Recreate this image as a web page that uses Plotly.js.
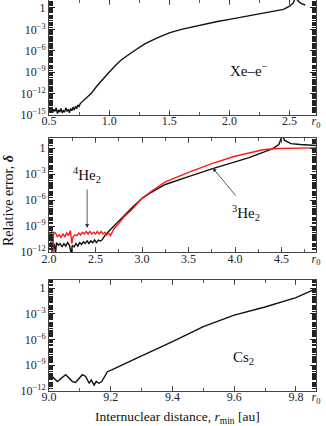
<!DOCTYPE html>
<html>
<head>
<meta charset="utf-8">
<script src="https://cdn.plot.ly/plotly-3.0.1.min.js"></script>
<style>
  body { margin: 0; background: #fff; }
  #chart { width: 326px; height: 426px; }
</style>
</head>
<body>
<div id="chart"></div>
<script>
// Xe-e- panel
const xeX = [0.50, 0.51, 0.52, 0.53, 0.54, 0.55, 0.56, 0.57, 0.58, 0.59, 0.60, 0.61, 0.62, 0.63,
    0.64, 0.65, 0.66, 0.67, 0.68, 0.69, 0.70, 0.71, 0.72, 0.73, 0.74, 0.75, 0.76,
    0.80, 0.85, 0.90, 0.95, 1.00, 1.05, 1.10, 1.20, 1.30, 1.40, 1.50, 1.60, 1.70, 1.80,
    1.90, 2.00, 2.10, 2.20, 2.30, 2.40, 2.45, 2.50, 2.53, 2.55, 2.56, 2.58, 2.60, 2.63];
const xeLogErr = [-14.0, -14.6, -13.9, -14.7, -14.2, -14.5, -14.0, -14.8, -14.3, -14.6, -14.1, -14.7, -14.4,
    -14.6, -14.0, -14.5, -14.2, -14.7, -14.1, -14.4, -13.9, -14.3, -13.8, -14.1, -13.6, -13.8, -13.4,
    -12.8, -12.0, -10.9, -9.9, -9.0, -8.1, -7.3, -6.1, -5.0, -4.2, -3.5, -3.0, -2.6, -2.25,
    -1.9, -1.6, -1.3, -1.05, -0.75, -0.45, -0.2, 0.25, 0.7, 1.5, 1.2, 0.85, 0.6, 0.42];

// He2 panel
const he3X = [2.00, 2.01, 2.02, 2.035, 2.05, 2.06, 2.07, 2.08, 2.10, 2.12, 2.14, 2.16, 2.18, 2.20,
    2.22, 2.24, 2.25, 2.27, 2.29, 2.31, 2.33, 2.35, 2.37, 2.39, 2.41, 2.43, 2.45, 2.47, 2.49,
    2.51, 2.53, 2.55, 2.57, 2.60, 2.65, 2.70, 2.80, 2.90, 3.00, 3.10, 3.25, 3.50, 3.75, 4.00,
    4.15, 4.30, 4.40, 4.47, 4.51, 4.53, 4.60, 4.70, 4.80, 4.87];
const he3LogErr = [-11.0, -11.4, -10.8, -12.2, -11.0, -11.3, -12.2, -10.9, -11.2, -11.0, -11.4, -11.0, -11.3, -10.9,
    -11.2, -12.2, -11.2, -11.4, -11.0, -11.3, -10.9, -11.1, -10.8, -11.0, -10.7, -11.0, -10.7, -10.9, -10.6,
    -10.9, -10.6, -10.7, -10.6, -10.1, -9.5, -9.0, -7.9, -6.8, -5.8, -5.1, -4.2, -3.3, -2.4, -1.6,
    -1.1, -0.5, -0.1, 0.4, 1.5, 0.9, 0.5, 0.4, 0.3, 0.28];
const he4X = [2.00, 2.01, 2.02, 2.03, 2.04, 2.05, 2.07, 2.09, 2.11, 2.13, 2.15, 2.17, 2.19, 2.21,
    2.23, 2.245, 2.26, 2.28, 2.30, 2.32, 2.34, 2.36, 2.38, 2.40, 2.42, 2.44, 2.46, 2.48, 2.50,
    2.52, 2.54, 2.56, 2.58, 2.60, 2.62, 2.64, 2.66, 2.68, 2.70, 2.75, 2.80, 2.90, 3.00, 3.10,
    3.25, 3.50, 3.75, 4.00, 4.15, 4.30, 4.45, 4.60, 4.87];
const he4LogErr = [-10.3, -9.7, -9.8, -9.6, -12.2, -9.7, -9.8, -10.2, -10.0, -10.3, -9.9, -10.2, -9.8, -10.1,
    -9.5, -11.0, -10.2, -10.0, -10.1, -9.8, -10.0, -9.7, -9.9, -9.6, -9.9, -9.6, -9.9, -9.7, -9.9,
    -9.6, -9.9, -9.6, -9.9, -9.7, -10.0, -9.8, -10.1, -9.6, -9.3, -8.7, -8.0, -7.0, -5.8, -5.0,
    -3.9, -2.8, -1.8, -0.95, -0.55, -0.2, -0.05, 0.0, 0.02];

// Cs2 panel
const csX = [9.000, 9.010, 9.027, 9.054, 9.076, 9.086, 9.108, 9.119, 9.130, 9.137, 9.146, 9.153, 9.162,
    9.171, 9.189, 9.205, 9.30, 9.40, 9.50, 9.60, 9.70, 9.80, 9.86];
const csLogErr = [-10.1, -10.3, -10.9, -10.1, -10.9, -11.0, -10.1, -10.3, -11.1, -10.7, -11.3, -10.9, -11.1,
    -10.9, -9.75, -9.5, -7.9, -6.25, -4.5, -3.15, -2.2, -1.1, -0.15];

const xTicks1 = [0.5, 1.0, 1.5, 2.0, 2.5];
const xTicks2 = [2.0, 2.5, 3.0, 3.5, 4.0, 4.5];
const xTicks3 = [9.0, 9.2, 9.4, 9.6, 9.8];
const r0Pos = [2.72, 4.87, 9.865];

const pow10 = v => v.map(p => Math.pow(10, p));

function decadeTicks(lo, hi) {
    const vals = [], text = [];
    for (let p = hi; p >= lo; p -= 3) {
        vals.push(Math.pow(10, p));
        text.push(p === 0 ? '1' : '10<sup>\u2212' + (-p) + '</sup>');
    }
    return {vals, text};
}
function minorLog(lo, hi) {
    const out = [];
    for (let p = lo; p <= hi; p++) {
        for (let m = 1; m <= 9; m++) out.push(m * Math.pow(10, p));
    }
    return out;
}
function halfSteps(ticks, end) {
    const step = (ticks[1] - ticks[0]) / 2;
    const out = [];
    for (let v = ticks[0]; v <= end + 1e-9; v += step) out.push(+v.toFixed(3));
    return out;
}

const font = 'Liberation Serif, Times New Roman, serif';
const black = '#111111';
const red = '#ff1a1a';

const traces = [
    {x: xeX, y: pow10(xeLogErr), xaxis: 'x', yaxis: 'y', mode: 'lines', line: {color: black, width: 1.4}},
    {x: he3X, y: pow10(he3LogErr), xaxis: 'x2', yaxis: 'y2', mode: 'lines', line: {color: black, width: 1.4}},
    {x: he4X, y: pow10(he4LogErr), xaxis: 'x2', yaxis: 'y2', mode: 'lines', line: {color: red, width: 1.4}},
    {x: csX, y: pow10(csLogErr), xaxis: 'x3', yaxis: 'y3', mode: 'lines', line: {color: black, width: 1.4}},
];

function xAxis(ticks, r0, lo, anchor) {
    return {
        range: [lo, r0], anchor: anchor,
        tickmode: 'array',
        tickvals: ticks.concat([r0]),
        ticktext: ticks.map(v => v.toFixed(1)).concat(['<i>r</i><sub>0</sub>']),
        ticks: 'inside', ticklen: 5, tickcolor: '#333', tickwidth: 0.8,
        minor: {tickmode: 'array', tickvals: halfSteps(ticks, r0), ticks: 'inside', ticklen: 3, tickcolor: '#333', tickwidth: 0.8},
        showline: true, linecolor: '#444', linewidth: 1, mirror: 'allticks',
        showgrid: false, zeroline: false,
        tickfont: {family: font, size: 12, color: '#222'},
        ticklabelstandoff: -5,
        ticklabeloverflow: 'allow',
    };
}
function yAxis(lo, top, domain, anchor) {
    const t = decadeTicks(lo, 0);
    return {
        type: 'log', range: [lo, top], domain: domain, anchor: anchor,
        tickmode: 'array', tickvals: t.vals, ticktext: t.text,
        ticks: 'inside', ticklen: 6, tickcolor: '#222', tickwidth: 1,
        minor: {tickmode: 'array', tickvals: minorLog(lo, 1), ticks: 'inside', ticklen: 4, tickcolor: '#222', tickwidth: 1},
        showline: true, linecolor: '#444', linewidth: 1, mirror: 'allticks',
        showgrid: false, zeroline: false,
        tickfont: {family: font, size: 12, color: '#222'},
    };
}

const annFont = {family: font, size: 15, color: '#111'};

const layout = {
    width: 326, height: 426,
    margin: {l: 49, r: 10, t: 0, b: 35},
    paper_bgcolor: '#ffffff', plot_bgcolor: '#ffffff',
    showlegend: false,
    xaxis: xAxis(xTicks1, r0Pos[0], 0.5, 'y'),
    xaxis2: xAxis(xTicks2, r0Pos[1], 2.0, 'y2'),
    xaxis3: xAxis(xTicks3, r0Pos[2], 9.0, 'y3'),
    yaxis: yAxis(-15, 1.12, [0.706, 1], 'x'),
    yaxis2: yAxis(-12, 1.15, [0.355, 0.647], 'x2'),
    yaxis3: yAxis(-12, 1.0, [0, 0.285], 'x3'),
    annotations: [
        {xref: 'x', yref: 'y', x: 2.16, y: -8.7, text: 'Xe\u2013e<sup>\u2212</sup>', showarrow: false, font: annFont},
        {xref: 'x2', yref: 'y2', x: 2.41, y: -3.1, text: '<sup>4</sup>He<sub>2</sub>', showarrow: false, font: annFont},
        {xref: 'x2', yref: 'y2', x: 4.12, y: -7.5, text: '<sup>3</sup>He<sub>2</sub>', showarrow: false, font: annFont},
        {xref: 'x3', yref: 'y3', x: 9.63, y: -8.15, text: 'Cs<sub>2</sub>', showarrow: false, font: annFont},
        {xref: 'x2', yref: 'y2', x: 2.41, y: -9.2, axref: 'x2', ayref: 'y2', ax: 2.41, ay: -4.6,
            text: '', showarrow: true, arrowhead: 2, arrowsize: 1, arrowwidth: 0.8, arrowcolor: '#333'},
        {xref: 'x2', yref: 'y2', x: 3.76, y: -2.3, axref: 'x2', ayref: 'y2', ax: 4.02, ay: -5.65,
            text: '', showarrow: true, arrowhead: 2, arrowsize: 1, arrowwidth: 0.8, arrowcolor: '#333'},
        {xref: 'paper', yref: 'paper', x: -0.154, y: 0.488, xanchor: 'center', yanchor: 'middle',
            text: 'Relative error, <b><i>\u03b4</i></b>',
            textangle: -90, showarrow: false, font: {family: font, size: 14, color: '#111'}},
        {xref: 'paper', yref: 'paper', x: 0.48, y: -0.067, xanchor: 'center', yanchor: 'middle',
            text: 'Internuclear distance, <i>r</i><sub>min</sub> [au]',
            showarrow: false, font: {family: font, size: 13.5, color: '#111'}},
    ],
};

Plotly.newPlot('chart', traces, layout, {displayModeBar: false, staticPlot: true});
</script>
</body>
</html>
